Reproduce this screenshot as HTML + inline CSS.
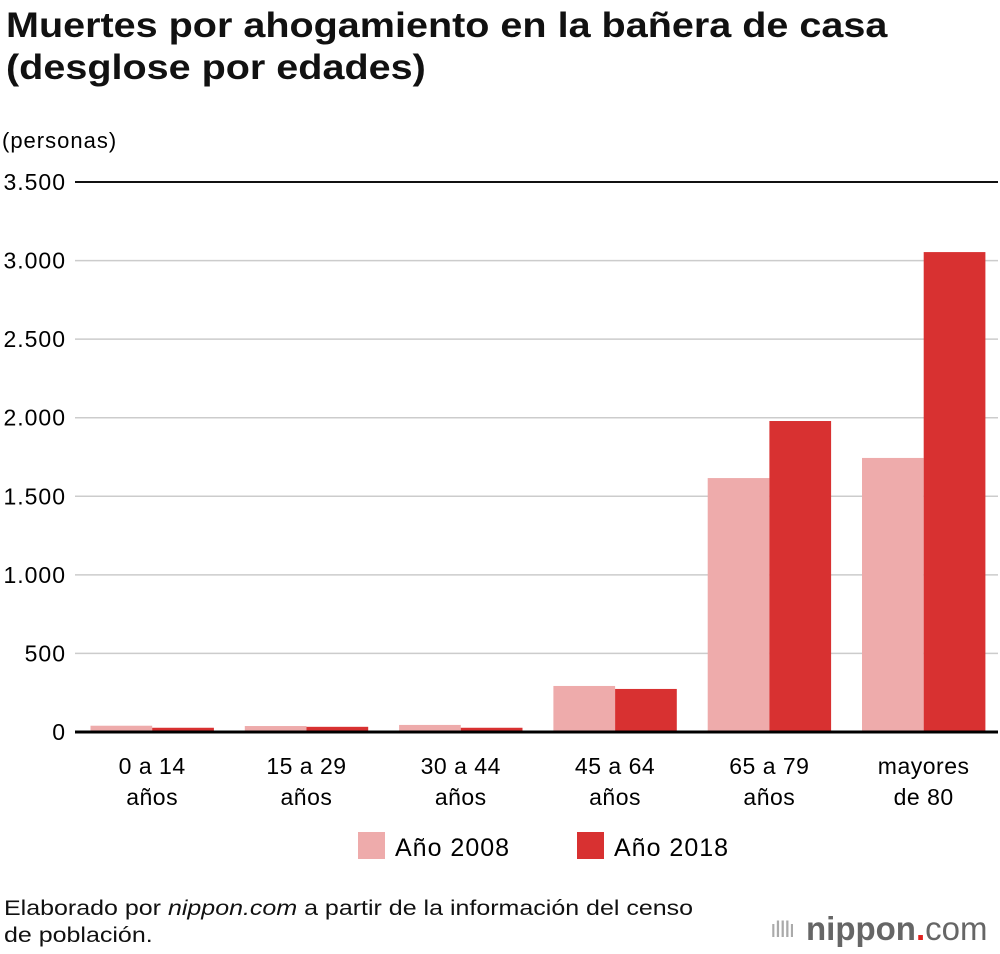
<!DOCTYPE html>
<html><head><meta charset="utf-8"><style>
body{margin:0;width:1000px;height:954px;background:#fff;font-family:"Liberation Sans",sans-serif;color:#111;overflow:hidden;position:relative}
.t{position:absolute;left:6px;top:5px;font-size:35px;font-weight:bold;line-height:42px;transform:scaleX(1.13);transform-origin:left top;white-space:nowrap}
svg{position:absolute;left:0;top:0}
.src{position:absolute;left:4px;top:895px;font-size:21px;line-height:27px;transform:scaleX(1.19);transform-origin:left top;white-space:nowrap}
.logo{position:absolute;left:806px;top:910px;font-size:33px;color:#666;font-weight:bold;white-space:nowrap}
</style></head><body>
<div class="t">Muertes por ahogamiento en la bañera de casa<br>(desglose por edades)</div>
<svg id="c" width="1000" height="954"></svg>
<div class="src">Elaborado por <i>nippon.com</i> a partir de la información del censo<br>de población.</div>
<div class="logo"><span style="font-size:24px;letter-spacing:-2px;color:#aaa;font-weight:normal;position:absolute;left:-36px;top:6px">ıIIIı</span>nippon<span style="color:#e0201e">.</span><span style="font-weight:normal">com</span></div>
<script>
const categories=[["0 a 14","años"],["15 a 29","años"],["30 a 44","años"],["45 a 64","años"],["65 a 79","años"],["mayores","de 80"]];
const s2008=[40,38,45,293,1616,1744];
const s2018=[27,33,27,274,1979,3054];
const ticks=[0,500,1000,1500,2000,2500,3000,3500];
const tickLabels=["0","500","1.000","1.500","2.000","2.500","3.000","3.500"];
const NS="http://www.w3.org/2000/svg",svg=document.getElementById('c');
const y0=732,yTop=182,maxV=3500,x0=75,gw=154.3,bw=61.7,off=15.5;
const Y=v=>y0-(v/maxV)*(y0-yTop);
function el(t,a,txt){const e=document.createElementNS(NS,t);for(const k in a)e.setAttribute(k,a[k]);if(txt!=null)e.textContent=txt;svg.appendChild(e);return e;}
const yl=el('text',{x:2,y:148,'font-size':22,'letter-spacing':1});yl.textContent="(personas)";


ticks.forEach((v,i)=>{
 const l=el('line',{x1:75,x2:998,y1:Y(v),y2:Y(v),stroke:i==ticks.length-1?'#111':'#ccc','stroke-width':i==ticks.length-1?2:1.5});
 
 
 const t=el('text',{x:66,y:Y(v)+8,'text-anchor':'end','font-size':23,'letter-spacing':1},tickLabels[i]);
 
 
});
categories.forEach((c,i)=>{
 const gx=x0+i*gw;
 const a=el('rect',{x:gx+off,y:Y(s2008[i]),width:bw,height:y0-Y(s2008[i]),fill:'#eeabab'});
 
 
 const b=el('rect',{x:gx+off+bw,y:Y(s2018[i]),width:bw,height:y0-Y(s2018[i]),fill:'#d83131'});
 
 
 c.forEach((s,j)=>{const t=el('text',{x:gx+gw/2,y:774+j*31,'text-anchor':'middle','font-size':23,'letter-spacing':0.5},s);
 
 });
});
const ax=el('line',{x1:75,x2:998,y1:y0,y2:y0,stroke:'#000','stroke-width':3});


[[358,'#eeabab','Año 2008'],[577,'#d83131','Año 2018']].forEach(([x,f,s])=>{
 const r=el('rect',{x:x,y:832,width:27,height:27,fill:f});
 
 
 const t=el('text',{x:x+37,y:856,'font-size':25,'letter-spacing':1},s);
 
 
});
</script>
</body></html>
